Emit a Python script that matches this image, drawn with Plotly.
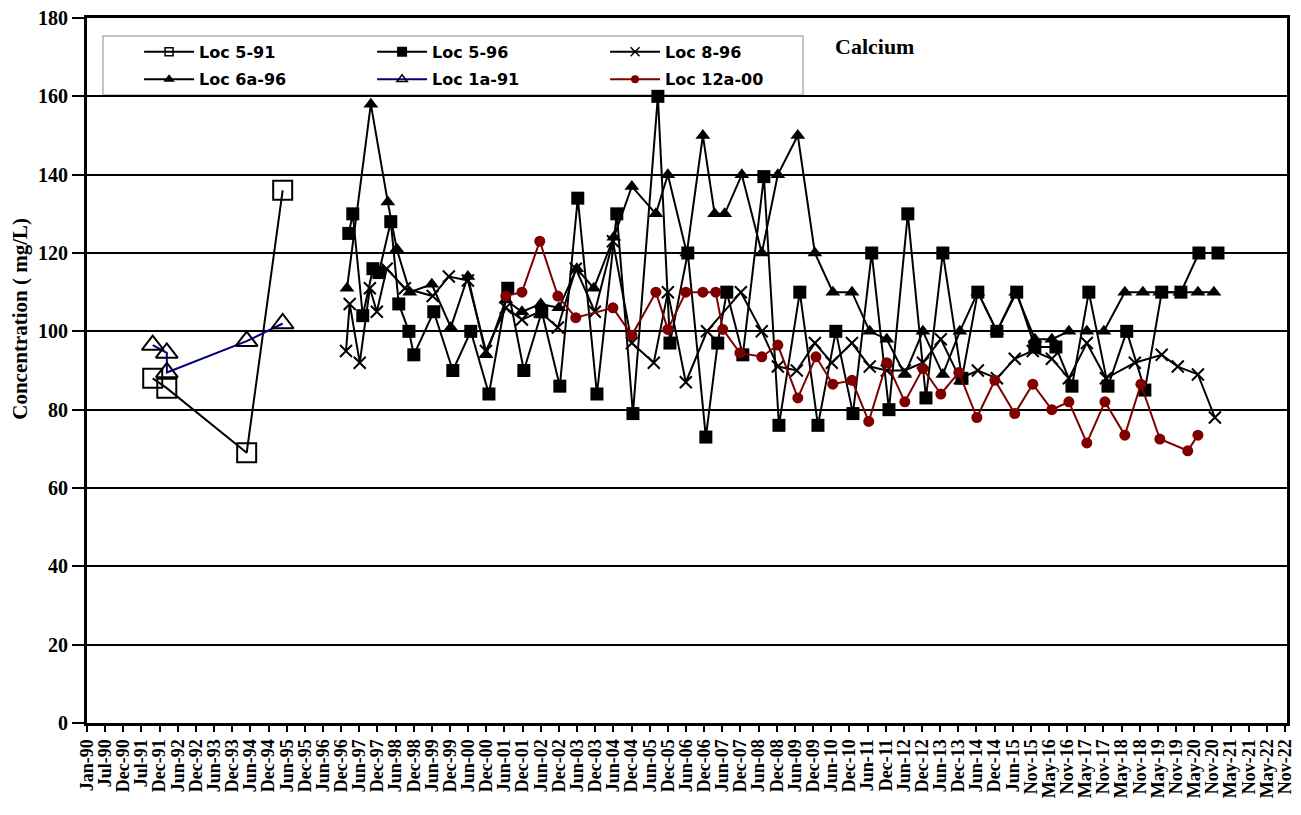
import pandas as pd
import plotly.graph_objects as go

TITLE = "Calcium"
Y_TITLE = "Concentration ( mg/L)"

TICK_LABELS = [
    "Jan-90", "Jul-90", "Dec-90", "Jul-91", "Dec-91", "Jun-92", "Dec-92", "Jun-93", "Dec-93", "Jun-94",
    "Dec-94", "Jun-95", "Dec-95", "Jun-96", "Dec-96", "Jun-97", "Dec-97", "Jun-98", "Dec-98", "Jun-99",
    "Dec-99", "Jun-00", "Dec-00", "Jun-01", "Dec-01", "Jun-02", "Dec-02", "Jun-03", "Dec-03", "Jun-04",
    "Dec-04", "Jun-05", "Dec-05", "Jun-06", "Dec-06", "Jun-07", "Dec-07", "Jun-08", "Dec-08", "Jun-09",
    "Dec-09", "Jun-10", "Dec-10", "Jun-11", "Dec-11", "Jun-12", "Dec-12", "Jun-13", "Dec-13", "Jun-14",
    "Dec-14", "Jun-15", "Nov-15", "May-16", "Nov-16", "May-17", "Nov-17", "May-18", "Nov-18", "May-19",
    "Nov-19", "May-20", "Nov-20", "May-21", "Nov-21", "May-22", "Nov-22",
]
TICK_START = "1990-01-01"
TICK_STEP_DAYS = 182
X_END = "2022-12-11"

LOC5_91_DATES = ["1991-10-22", "1992-03-11", "1994-05-21", "1995-05-17"]
LOC5_91_VALUES = [88, 85.5, 69, 136]

LOC1A_91_DATES = ["1991-10-22", "1992-03-11", "1992-03-12", "1994-05-21", "1995-05-17"]
LOC1A_91_VALUES = [96.5, 94.5, 89.5, 97.5, 102]

LOC5_96_DATES = [
    "1997-03-10", "1997-04-19", "1997-07-28", "1997-11-07", "1998-01-06", "1998-05-05", "1998-07-24", "1998-11-03", "1998-12-22", "1999-07-10",
    "2000-01-17", "2000-07-15", "2001-01-13", "2001-07-21", "2001-12-29", "2002-06-27", "2002-12-25", "2003-06-23", "2004-01-01", "2004-07-18",
    "2004-12-27", "2005-09-03", "2006-01-02", "2006-06-30", "2006-12-28", "2007-04-26", "2007-07-26", "2008-01-03", "2008-08-01", "2008-12-30",
    "2009-07-27", "2010-01-25", "2010-07-23", "2011-01-11", "2011-07-18", "2012-01-07", "2012-07-14", "2013-01-12", "2013-06-30", "2014-01-08",
    "2014-06-16", "2014-12-24", "2015-07-11", "2016-01-09", "2016-08-07", "2017-01-15", "2017-07-03", "2018-01-11", "2018-07-18", "2019-01-16",
    "2019-07-04", "2020-01-12", "2020-07-11", "2021-01-18",
]
LOC5_96_VALUES = [
    125, 130, 104, 116, 115, 128, 107, 100, 94, 105,
    90, 100, 84, 111, 90, 105, 86, 134, 84, 130,
    79, 160, 97, 120, 73, 97, 110, 94, 139.5, 76,
    110, 76, 100, 79, 120, 80, 130, 83, 120, 88,
    110, 100, 110, 96, 96, 86, 110, 86, 100, 85,
    110, 110, 120, 120,
]

LOC8_96_DATES = [
    "1997-02-10", "1997-03-19", "1997-06-28", "1997-10-07", "1997-12-16", "1998-03-25", "1998-09-23", "1999-06-29", "1999-12-08", "2000-06-16",
    "2000-12-14", "2001-07-01", "2001-12-10", "2002-06-07", "2002-12-05", "2003-06-03", "2003-12-11", "2004-06-09", "2004-12-16", "2005-07-24",
    "2005-12-12", "2006-06-10", "2007-01-08", "2007-12-14", "2008-07-11", "2008-12-19", "2009-06-27", "2009-12-25", "2010-06-13", "2011-01-01",
    "2011-06-28", "2011-12-16", "2012-06-14", "2012-12-12", "2013-06-10", "2013-12-18", "2014-06-16", "2014-12-24", "2015-06-21", "2015-12-19",
    "2016-06-27", "2016-12-15", "2017-06-13", "2017-12-21", "2018-10-07", "2019-07-04", "2019-12-12", "2020-07-01", "2020-12-18",
]
LOC8_96_VALUES = [
    95, 107, 92, 111, 105, 116, 111, 109, 114, 113,
    95, 106, 103, 105, 101, 116, 105, 123, 97, 92,
    110, 87, 100, 110, 100, 91, 90, 97, 92, 97,
    91, 90, 90, 92, 98, 88, 90, 88, 93, 95,
    93, 88, 97, 88, 92, 94, 91, 89, 78,
]

LOC6A_96_DATES = [
    "1997-02-20", "1997-10-17", "1998-04-05", "1998-07-04", "1998-11-12", "1999-06-20", "1999-12-28", "2000-06-16", "2000-12-14", "2001-07-01",
    "2001-12-10", "2002-06-17", "2002-12-15", "2003-06-13", "2003-12-01", "2004-06-18", "2004-12-16", "2005-08-14", "2005-12-12", "2006-06-20",
    "2006-11-28", "2007-03-26", "2007-07-05", "2007-12-24", "2008-07-11", "2008-12-19", "2009-07-07", "2009-12-25", "2010-06-23", "2011-01-01",
    "2011-06-28", "2011-12-16", "2012-06-14", "2012-12-12", "2013-06-30", "2013-12-18", "2014-06-16", "2014-12-24", "2015-07-01", "2016-01-09",
    "2016-06-27", "2016-12-15", "2017-06-13", "2017-12-01", "2018-06-29", "2018-12-27", "2019-06-15", "2020-01-02", "2020-07-01", "2020-12-08",
]
LOC6A_96_VALUES = [
    111, 158, 133, 121, 110, 112, 101, 114, 94, 108,
    105, 107, 106, 116, 111, 124, 137, 130, 140, 120,
    150, 130, 130, 140, 120, 140, 150, 120, 110, 110,
    100, 98, 89, 100, 89, 100, 110, 100, 110, 98,
    98, 100, 100, 100, 110, 110, 110, 110, 110, 110,
]

LOC12A_00_DATES = [
    "2001-07-01", "2001-12-10", "2002-06-07", "2002-12-05", "2003-06-03", "2004-06-09", "2004-12-16", "2005-08-14", "2005-12-12", "2006-06-10",
    "2006-11-28", "2007-04-06", "2007-06-16", "2007-12-04", "2008-07-11", "2008-12-19", "2009-07-07", "2010-01-05", "2010-06-23", "2011-01-01",
    "2011-06-18", "2011-12-16", "2012-06-14", "2012-12-12", "2013-06-10", "2013-12-08", "2014-06-06", "2014-12-04", "2015-06-21", "2015-12-19",
    "2016-06-27", "2016-12-15", "2017-06-13", "2017-12-11", "2018-06-29", "2018-12-07", "2019-06-15", "2020-03-21", "2020-07-01",
]
LOC12A_00_VALUES = [
    109, 110, 123, 109, 103.5, 106, 99, 110, 100.5, 110,
    110, 110, 100.5, 94.5, 93.5, 96.5, 83, 93.5, 86.5, 87.5,
    77, 92, 82, 90.5, 84, 89.5, 78, 87.5, 79, 86.5,
    80, 82, 71.5, 82, 73.5, 86.5, 72.5, 69.5, 73.5,
]

BLACK = "#000000"
NAVY = "#000080"
MAROON = "#800000"
SERIF = "Liberation Serif"
SANS = "DejaVu Sans"

fig = go.Figure()

SERIES = [
    # name, dates, values, symbol, size, legend size, marker color, line color, legend, outline
    ("Loc 5-91", LOC5_91_DATES, LOC5_91_VALUES, "square-open", 19, 8, BLACK, BLACK, "legend", True),
    ("Loc 5-96", LOC5_96_DATES, LOC5_96_VALUES, "square", 13, 10, BLACK, BLACK, "legend", False),
    ("Loc 8-96", LOC8_96_DATES, LOC8_96_VALUES, "x-thin-open", 12, 9, BLACK, BLACK, "legend", True),
    ("Loc 6a-96", LOC6A_96_DATES, LOC6A_96_VALUES, "triangle-up", 13, 10, BLACK, BLACK, "legend2", False),
    ("Loc 1a-91", LOC1A_91_DATES, LOC1A_91_VALUES, "triangle-up-open", 19, 9, BLACK, NAVY, "legend2", True),
    ("Loc 12a-00", LOC12A_00_DATES, LOC12A_00_VALUES, "circle", 11, 8, MAROON, MAROON, "legend2", False),
]

for name, dates, values, symbol, size, lsize, mcolor, lcolor, legend, outline in SERIES:
    marker = dict(symbol=symbol, size=size, color=mcolor)
    lmarker = dict(symbol=symbol, size=lsize, color=mcolor)
    if outline:
        marker["line"] = dict(color=mcolor, width=2)
        lmarker["line"] = dict(color=mcolor, width=1.5)
    fig.add_trace(go.Scatter(
        x=pd.to_datetime(dates), y=values, name=name, mode="lines+markers",
        line=dict(color=lcolor, width=2), marker=marker, showlegend=False,
    ))
    # legend entry with the smaller symbol used in the original legend
    fig.add_trace(go.Scatter(
        x=[None], y=[None], name=name, mode="lines+markers",
        line=dict(color=lcolor, width=2), marker=lmarker, legend=legend,
        showlegend=True, hoverinfo="skip",
    ))

tickvals = pd.date_range(TICK_START, periods=len(TICK_LABELS), freq=f"{TICK_STEP_DAYS}D")

legend_common = dict(
    orientation="h", xanchor="left", yanchor="middle",
    bgcolor="rgba(0,0,0,0)", borderwidth=0,
    font=dict(family=SANS, size=16, color=BLACK, weight="bold"),
    entrywidth=168, entrywidthmode="pixels",
    tracegroupgap=0, itemwidth=50,
)

fig.update_layout(
    width=1293, height=807,
    margin=dict(l=79, r=14, t=10, b=92, autoexpand=False),
    paper_bgcolor="white", plot_bgcolor="white",
    template="simple_white",
    showlegend=True,
    legend=dict(x=0.0434, y=0.952, **legend_common),
    legend2=dict(x=0.0434, y=0.913, **legend_common),
    xaxis=dict(
        type="date", range=[TICK_START, X_END], automargin=False,
        tickmode="array", tickvals=tickvals, ticktext=TICK_LABELS,
        tickangle=-90, ticks="outside", ticklen=6, tickwidth=2, tickcolor=BLACK,
        tickfont=dict(family=SERIF, size=18, color=BLACK, weight="bold"),
        ticklabeloverflow="allow",
        showline=True, linewidth=3, linecolor=BLACK, mirror=True,
        showgrid=False, zeroline=False,
    ),
    yaxis=dict(
        range=[0, 180], dtick=20, tick0=0, automargin=False,
        ticks="outside", ticklen=12, tickwidth=2, tickcolor=BLACK,
        tickfont=dict(family=SERIF, size=20, color=BLACK, weight="bold"),
        ticklabeloverflow="allow",
        showline=True, linewidth=3, linecolor=BLACK, mirror=True,
        showgrid=True, gridcolor=BLACK, gridwidth=2, zeroline=False,
    ),
    shapes=[dict(
        type="rect", xref="paper", yref="paper",
        x0=0.0133, x1=0.5967, y0=0.8908, y1=0.9745,
        line=dict(color=BLACK, width=1.5), fillcolor="white", layer="below",
    )],
    annotations=[
        dict(text=TITLE, xref="paper", yref="paper", x=0.656, y=0.960,
             xanchor="center", yanchor="middle", showarrow=False,
             font=dict(family=SERIF, size=22, color=BLACK, weight="bold")),
        dict(text=Y_TITLE, xref="paper", yref="paper", x=-0.0555, y=0.574,
             xanchor="center", yanchor="middle", showarrow=False, textangle=-90,
             font=dict(family=SERIF, size=21, color=BLACK, weight="bold")),
    ],
)

fig.write_html("out.html")
